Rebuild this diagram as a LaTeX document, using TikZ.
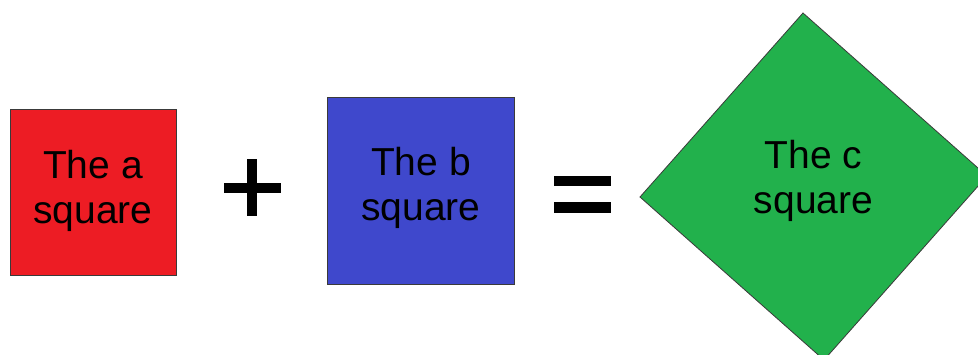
\documentclass[tikz,border=0pt]{standalone}
\usepackage{fontspec}
\setmainfont{Liberation Sans}
\definecolor{sqred}{HTML}{ED1C24}
\definecolor{sqblue}{HTML}{3F48CC}
\definecolor{sqgreen}{HTML}{22B14C}
\definecolor{edgegray}{HTML}{3A3A3A}
\begin{document}
\begin{tikzpicture}[x=1pt,y=-1pt,
  sqbox/.style={draw=edgegray,line width=0.8pt,rectangle,inner sep=0pt},
  sqtext/.style={inner sep=0pt,align=center,font=\fontsize{39}{45}\selectfont,text=black},
  opbar/.style={fill=black}]
\useasboundingbox (0,0) rectangle (978,355);
\begin{scope}
\clip (0,0) rectangle (978,355);
% squares
\node[sqbox,fill=sqred,minimum width=166pt,minimum height=166pt] (asq) at (93,192) {};
\node[sqbox,fill=sqblue,minimum width=187pt,minimum height=187pt] (bsq) at (421,190.5) {};
\coordinate (cl) at (640,197);
\coordinate (ct) at (803,13);
\coordinate (cr) at (987,176);
\coordinate (cb) at (824,360);
\draw[draw=edgegray,line width=0.8pt,fill=sqgreen] (cl) -- (ct) -- (cr) -- (cb) -- cycle;
% texts
\node[sqtext] (atext) at (93,190.5) {The a\\square};
\node[sqtext] (btext) at (421,187.5) {The b\\square};
\node[sqtext] (ctext) at (813.5,180.5) {The c\\square};
% plus
\fill[opbar] (247,159.5) rectangle (257,216.5);
\fill[opbar] (223.5,182.7) rectangle (280.5,193.3);
% equals
\fill[opbar] (554,176) rectangle (611,186);
\fill[opbar] (554,202.5) rectangle (611,212.7);
\end{scope}
\end{tikzpicture}
\end{document}
